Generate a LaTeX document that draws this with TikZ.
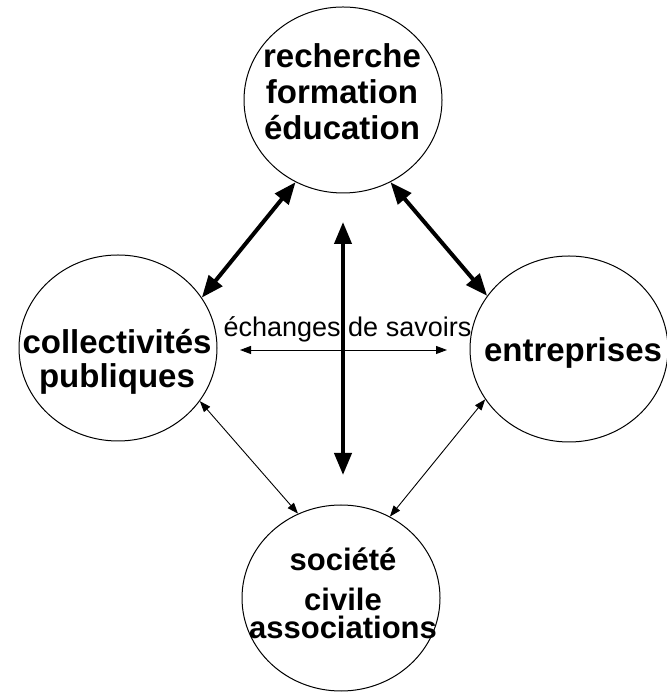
\documentclass[tikz,border=0pt]{standalone}
\usepackage{fontspec}
\setmainfont{Liberation Sans}
\usetikzlibrary{shapes.geometric,arrows.meta}
\begin{document}
\begin{tikzpicture}[x=1pt, y=1pt,
        pole/.style={draw, ellipse, line width=1pt, minimum width=198pt, minimum height=186pt, inner sep=0pt},
        poletext/.style={align=center, inner sep=0pt, font=\bfseries\fontsize{33}{36}\selectfont},
        big/.style={line width=4pt, arrows={Triangle[length=22pt,width=17pt]-Triangle[length=22pt,width=17pt]}},
        small/.style={line width=0.9pt, arrows={Triangle[length=11pt,width=8pt]-Triangle[length=11pt,width=8pt]}}]
        \useasboundingbox (0,0) rectangle (666,692);

        % the four poles
        \node[pole] (recherche) at (343,592) {};
        \node[poletext] (recherche-t) at (342,600) {recherche\\formation\\éducation};
        \node[pole] (collectivites) at (118,344) {};
        \node[poletext] (collectivites-t) at (117,330.5) {collectivités\\[-2pt]publiques};
        \node[pole] (entreprises) at (569,343) {};
        \node[poletext, anchor=base] (entreprises-t) at (573,330) {entreprises};
        \node[pole] (societe) at (341,94) {};
        \node[poletext, font=\bfseries\fontsize{31}{36}\selectfont] (societe-t) at (343,98.5) {société\\[4pt]civile\\[-8pt]associations};

        % centre
        \node[font=\fontsize{27}{30}\selectfont, anchor=base, inner sep=0pt] (savoirs) at (347.5,355) {échanges de savoirs};
        \coordinate (haut) at (343,470);
        \coordinate (bas) at (343,217);
        \coordinate (gauche) at (240,342);
        \coordinate (droite) at (447,342);

        \draw[big] (recherche.240) -- (collectivites.31);
        \draw[big] (recherche.300.6) -- (entreprises.147.6);
        \draw[small] (collectivites.327.6) -- (societe.117.6);
        \draw[small] (entreprises.211.9) -- (societe.59.4);
        \draw[big] (haut) -- (bas);
        \draw[small] (gauche) -- (droite);
    \end{tikzpicture}
\end{document}
